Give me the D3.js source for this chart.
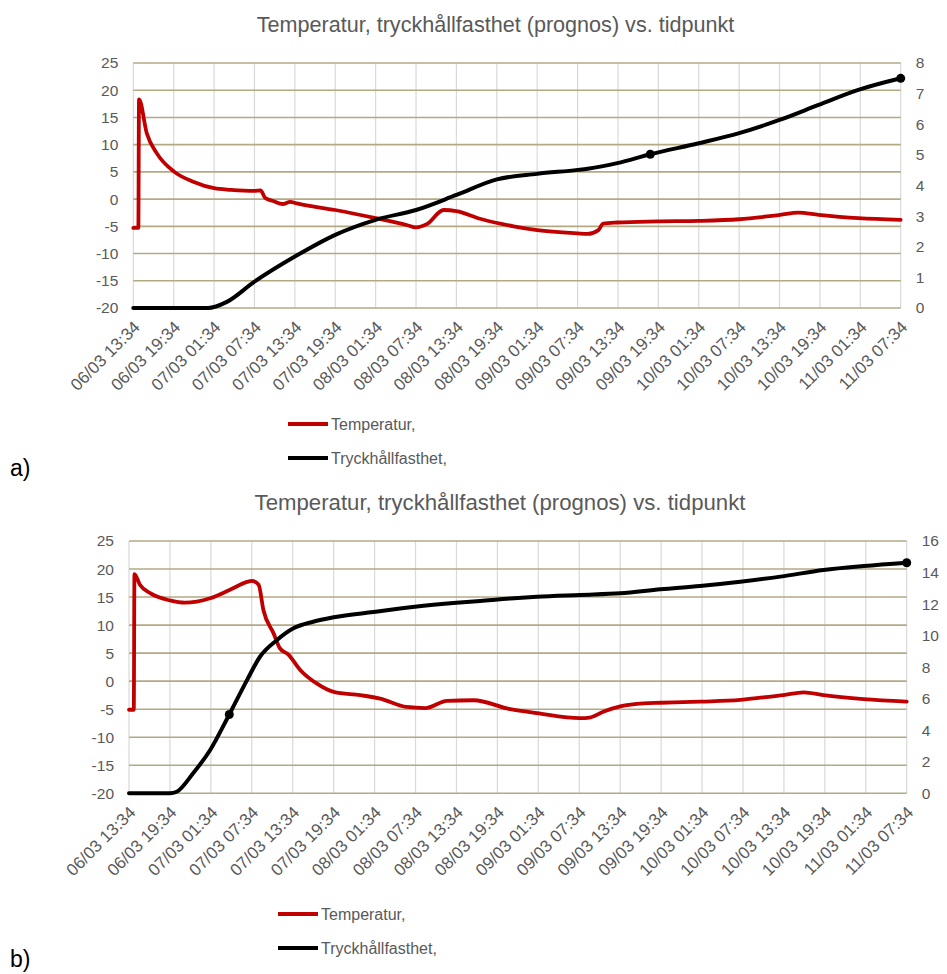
<!DOCTYPE html>
<html>
<head>
<meta charset="utf-8">
<script src="https://cdn.jsdelivr.net/npm/d3@7"></script>
<style>
  body { margin: 0; background: #fff; }
  svg { display: block; }
  text { font-family: "Liberation Sans", Arial, sans-serif; }
</style>
</head>
<body>
<svg id="chart" width="947" height="974"></svg>
<script>
// Time axis: hours after 06/03 13:34, labelled every 6 hours
const tickLabels = [
  "06/03 13:34", "06/03 19:34", "07/03 01:34", "07/03 07:34", "07/03 13:34",
  "07/03 19:34", "08/03 01:34", "08/03 07:34", "08/03 13:34", "08/03 19:34",
  "09/03 01:34", "09/03 07:34", "09/03 13:34", "09/03 19:34", "10/03 01:34",
  "10/03 07:34", "10/03 13:34", "10/03 19:34", "11/03 01:34", "11/03 07:34"
];
const tickHours = [0, 6, 12, 18, 24, 30, 36, 42, 48, 54, 60, 66, 72, 78, 84, 90, 96, 102, 108, 114];

const tempTicks = [-20, -15, -10, -5, 0, 5, 10, 15, 20, 25];
const strengthTicksA = [0, 1, 2, 3, 4, 5, 6, 7, 8];
const strengthTicksB = [0, 2, 4, 6, 8, 10, 12, 14, 16];

const seriesNames = ["Temperatur,", "Tryckhållfasthet,"];
const titleText = "Temperatur, tryckhållfasthet (prognos) vs. tidpunkt";

// Panel a) — temperature [hour, °C]
const tempA = [
  [0, -5.3], [0.75, -5.3], [0.85, 18.3], [2, 12.1], [3.5, 8.4], [6.1, 5.0], [8.9, 3.2],
  [12, 2.0], [14.5, 1.7], [18, 1.5], [18.9, 1.6], [19.6, 0.2], [20.8, -0.35], [22.2, -0.9],
  [23.3, -0.5], [24.3, -0.8], [30, -2.0], [36, -3.5], [40.6, -4.75], [42, -5.2], [43.6, -4.6],
  [46.1, -2.0], [48, -2.2], [51.5, -3.6], [56.5, -5.0], [60, -5.7], [66, -6.3], [67.5, -6.4],
  [69.1, -5.7], [69.8, -4.5], [71.9, -4.3], [77.8, -4.1], [84, -4.0], [90, -3.7], [96.1, -2.9],
  [98.8, -2.5], [101.8, -2.9], [107.7, -3.5], [114, -3.8]
];
// Panel a) — compressive strength [hour, MPa]
const strengthA = [
  [0, 0], [11.1, 0], [13.9, 0.2], [18, 0.86], [24, 1.68], [30, 2.39], [36, 2.88], [42, 3.2],
  [48, 3.69], [54, 4.2], [60, 4.38], [66, 4.51], [67.5, 4.55], [71.9, 4.73], [76.8, 5.02],
  [84, 5.38], [90, 5.71], [96, 6.14], [101.8, 6.63], [107.7, 7.12], [114, 7.5]
];
const markersA = [[76.8, 5.02], [114, 7.5]];

// Panel b) — temperature [hour, °C]
const tempB = [
  [0, -5.1], [0.7, -5.1], [0.8, 19.1], [1.6, 17.2], [3.1, 15.7], [6, 14.4], [8.2, 14.0],
  [11.9, 14.8], [14.8, 16.3], [17.3, 17.7], [18, 17.9], [19, 17.2], [19.7, 12.7], [21.2, 8.5],
  [22.1, 5.9], [23.4, 4.7], [25.1, 2.0], [27.5, -0.4], [30, -1.9], [33.9, -2.5], [36.8, -3.1],
  [40.7, -4.6], [43.4, -4.8], [46.6, -3.5], [50.5, -3.4], [55.9, -5.0], [59.8, -5.7], [66.1, -6.6],
  [67.5, -6.5], [69.6, -5.4], [72, -4.5], [75.4, -3.95], [78, -3.85], [83.7, -3.65], [89.6, -3.35],
  [93, -2.9], [95.9, -2.5], [98.9, -2.0], [101.8, -2.5], [107.7, -3.2], [114, -3.65]
];
// Panel b) — compressive strength [hour, MPa]
const strengthB = [
  [0, 0], [6, 0], [7, 0.1], [9.4, 1.27], [11.9, 2.75], [14.7, 5.0], [17.3, 7.18], [19.2, 8.66],
  [21.7, 9.72], [24.1, 10.46], [27, 10.88], [30, 11.16], [35.8, 11.5], [41.9, 11.83], [48, 12.08],
  [51.5, 12.2], [55.9, 12.36], [59.8, 12.47], [66.1, 12.58], [72, 12.68], [77.9, 12.94],
  [83.7, 13.15], [89.6, 13.42], [95.5, 13.74], [101.8, 14.16], [107.7, 14.41], [114, 14.62]
];
const markersB = [[14.7, 5.0], [114, 14.62]];

const TEXT = "#595959";
const RED = "#c00000";
const BLACK = "#000000";
const HGRID = "#b3aa84";
const VGRID = "#d9d9d9";

const svg = d3.select("#chart");
// plain hyphen for negative numbers
const plainNumber = d => String(d);

function drawPanel(p) {
  const g = svg.append("g");
  const x = d3.scaleLinear().domain([0, 114]).range([p.left, p.right]);
  const yL = d3.scaleLinear().domain([-20, 25]).range([p.bottom, p.top]);
  const yR = d3.scaleLinear().domain([0, p.rightMax]).range([p.bottom, p.top]);

  // title
  g.append("text")
    .attr("x", p.titleX).attr("y", p.titleY)
    .attr("text-anchor", "middle")
    .attr("fill", TEXT)
    .attr("font-size", p.titleSize)
    .text(titleText);

  // vertical gridlines
  g.append("g").selectAll("line").data(tickHours).join("line")
    .attr("x1", d => x(d)).attr("x2", d => x(d))
    .attr("y1", p.top).attr("y2", p.bottom)
    .attr("stroke", VGRID).attr("stroke-width", 1.2);

  // horizontal gridlines
  g.append("g").selectAll("line").data(tempTicks).join("line")
    .attr("x1", p.left).attr("x2", p.right)
    .attr("y1", d => yL(d)).attr("y2", d => yL(d))
    .attr("stroke", HGRID).attr("stroke-width", 1.6);

  // left axis (temperature)
  const ax = g.append("g").attr("transform", `translate(${p.left},0)`)
    .call(d3.axisLeft(yL).tickValues(tempTicks).tickFormat(plainNumber).tickSize(0).tickPadding(15));
  ax.select(".domain").remove();
  ax.selectAll("text").attr("fill", TEXT).attr("font-size", 15.5).attr("font-family", null);

  // right axis (strength)
  const ar = g.append("g").attr("transform", `translate(${p.right},0)`)
    .call(d3.axisRight(yR).tickValues(p.rightTicks).tickFormat(plainNumber).tickSize(0).tickPadding(15));
  ar.select(".domain").remove();
  ar.selectAll("text").attr("fill", TEXT).attr("font-size", 15.5).attr("font-family", null);

  // bottom axis (time)
  const ab = g.append("g").attr("transform", `translate(0,${p.bottom})`)
    .call(d3.axisBottom(x).tickValues(tickHours).tickSize(0)
      .tickFormat((d, i) => tickLabels[i]));
  ab.select(".domain").remove();
  ab.selectAll("text")
    .attr("fill", TEXT).attr("font-size", 17).attr("font-family", null)
    .attr("text-anchor", "end")
    .attr("x", 0).attr("y", 0).attr("dy", "0.35em")
    .attr("transform", "translate(3,16) rotate(-45)");

  const line = (ys) => d3.line().x(d => x(d[0])).y(d => ys(d[1])).curve(d3.curveMonotoneX);

  g.append("path").datum(p.temp)
    .attr("d", line(yL))
    .attr("fill", "none").attr("stroke", RED).attr("stroke-width", 3.8)
    .attr("stroke-linejoin", "round").attr("stroke-linecap", "round");

  g.append("path").datum(p.strength)
    .attr("d", line(yR))
    .attr("fill", "none").attr("stroke", BLACK).attr("stroke-width", 4)
    .attr("stroke-linejoin", "round").attr("stroke-linecap", "round");

  g.append("g").selectAll("circle").data(p.markers).join("circle")
    .attr("cx", d => x(d[0])).attr("cy", d => yR(d[1]))
    .attr("r", 4.5).attr("fill", BLACK);

  // legend
  const lg = g.append("g");
  seriesNames.forEach((name, i) => {
    const y = p.legendY + i * p.legendGap;
    lg.append("line")
      .attr("x1", p.legendX).attr("x2", p.legendX + 40)
      .attr("y1", y).attr("y2", y)
      .attr("stroke", i === 0 ? RED : BLACK).attr("stroke-width", 4);
    lg.append("text")
      .attr("x", p.legendX + 43).attr("y", y).attr("dy", "0.35em")
      .attr("fill", TEXT).attr("font-size", 16)
      .text(name);
  });

  // panel letter
  g.append("text")
    .attr("x", 10).attr("y", p.letterY)
    .attr("fill", "#000").attr("font-size", 23)
    .text(p.letter);
}

drawPanel({
  left: 133.3, right: 900.7, top: 63, bottom: 308,
  rightMax: 8, rightTicks: strengthTicksA,
  temp: tempA, strength: strengthA, markers: markersA,
  titleX: 495.5, titleY: 32, titleSize: 21.6,
  legendX: 288, legendY: 424, legendGap: 34,
  letter: "a)", letterY: 476
});

drawPanel({
  left: 129, right: 906.7, top: 541, bottom: 793.3,
  rightMax: 16, rightTicks: strengthTicksB,
  temp: tempB, strength: strengthB, markers: markersB,
  titleX: 500, titleY: 510, titleSize: 22.2,
  legendX: 278, legendY: 914, legendGap: 34,
  letter: "b)", letterY: 967
});
</script>
</body>
</html>
